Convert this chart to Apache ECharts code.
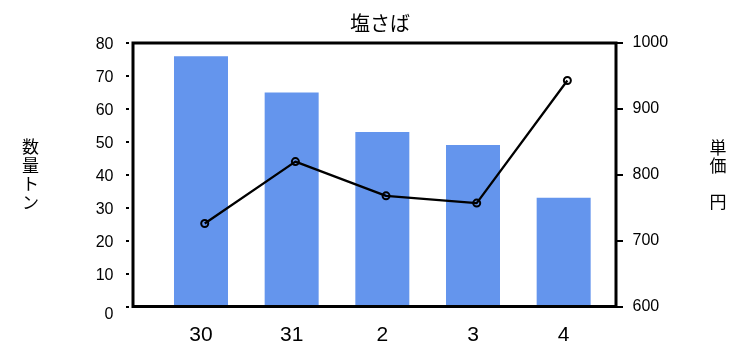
<!DOCTYPE html>
<html>
<head>
<meta charset="utf-8">
<script src="https://cdn.jsdelivr.net/npm/echarts@6/dist/echarts.min.js"></script>
<style>html,body{margin:0;padding:0;background:#fff;}#c{width:747px;height:351px;}</style>
</head>
<body>
<div id="c"></div>
<script>
const categories = ['30', '31', '2', '3', '4'];
const quantity = [76, 65, 53, 49, 33];
const price = [726, 820, 768, 757, 943];
const leftTicks = { min: 0, max: 80, interval: 10 };
const rightTicks = { min: 600, max: 1000, interval: 100 };

const FONT = "'Liberation Sans', 'Noto Sans CJK JP', sans-serif";
const chart = echarts.init(document.getElementById('c'), null, { renderer: 'canvas' });
chart.setOption({
  animation: false,
  backgroundColor: '#fff',
  title: {
    text: '塩さば', left: 345, top: 8,
    textStyle: { fontFamily: "'Noto Sans CJK JP', sans-serif", fontSize: 20, fontWeight: 'normal', color: '#000' }
  },
  grid: [
    { left: 155.66, right: 138, top: 43, bottom: 44.5 },
    { left: 159.4, right: 134.3, top: 43, bottom: 44.5 },
    { left: 133, right: 131, top: 43, bottom: 44.5, show: true, borderColor: '#000', borderWidth: 3, backgroundColor: 'transparent', z: 10 }
  ],
  xAxis: [
    { type: 'category', gridIndex: 0, data: categories,
      axisLine: { show: false }, axisTick: { show: false },
      axisLabel: { color: '#000', fontSize: 21, fontFamily: FONT, margin: 18 } },
    { type: 'category', gridIndex: 1, data: categories, show: false },
    { type: 'value', gridIndex: 2, show: false }
  ],
  yAxis: [
    { type: 'value', gridIndex: 0, position: 'left', offset: 26.66,
      min: leftTicks.min, max: leftTicks.max, interval: leftTicks.interval,
      splitLine: { show: false }, axisLine: { show: false },
      axisTick: { show: true, length: 3, lineStyle: { color: '#000', width: 2 } },
      axisLabel: { color: '#000', fontSize: 16, fontFamily: FONT, margin: 15.5, padding: [4, 0, 0, 0],
        formatter: v => v === 0 ? '{z|0}' : String(v),
        rich: { z: { fontSize: 16, fontFamily: FONT, color: '#000', padding: [12, 0, 0, 0] } } },
      name: '数\n量\nト\nン', nameLocation: 'middle', nameRotate: 0, nameGap: 90,
      nameTextStyle: { color: '#000', fontSize: 17, lineHeight: 18.5, fontFamily: "'Noto Sans CJK JP', sans-serif", padding: [0, 0, 28.5, 0] } },
    { type: 'value', gridIndex: 1, position: 'right', offset: 3.3,
      min: rightTicks.min, max: rightTicks.max, interval: rightTicks.interval,
      splitLine: { show: false }, axisLine: { show: false },
      axisTick: { show: true, length: 7, lineStyle: { color: '#000', width: 2 } },
      axisLabel: { color: '#000', fontSize: 16, fontFamily: FONT, margin: 16.5, padding: [4, 0, 0, 0],
        formatter: v => String(v) },
      name: '単\n価\n\n円', nameLocation: 'middle', nameRotate: 0, nameGap: 93.5,
      nameTextStyle: { color: '#000', fontSize: 17, lineHeight: 18, fontFamily: "'Noto Sans CJK JP', sans-serif", padding: [0, 0, 19.5, 0] } },
    { type: 'value', gridIndex: 2, show: false }
  ],
  series: [
    { type: 'bar', xAxisIndex: 0, yAxisIndex: 0, data: quantity, barWidth: 54,
      itemStyle: { color: '#6495ED' }, silent: true },
    { type: 'line', xAxisIndex: 1, yAxisIndex: 1, data: price, z: 5,
      symbol: 'circle', symbolSize: 7,
      lineStyle: { color: '#000', width: 2.3 },
      itemStyle: { color: 'rgba(0,0,0,0)', borderColor: '#000', borderWidth: 2 }, silent: true }
  ]
});
</script>
</body>
</html>
